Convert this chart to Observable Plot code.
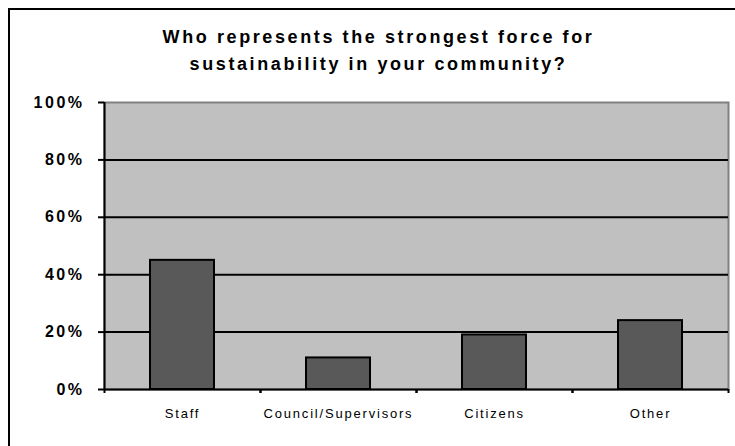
<!DOCTYPE html>
<html>
<head>
<meta charset="utf-8">
<script src="https://cdn.jsdelivr.net/npm/d3@7"></script>
<script src="https://cdn.jsdelivr.net/npm/@observablehq/plot@0.6"></script>
<style>
  html, body { margin: 0; padding: 0; background: #fff; }
  #wrap { position: relative; width: 735px; height: 446px; overflow: hidden; font-family: "Liberation Sans", Arial, sans-serif; }
  #border { position: absolute; left: 8px; top: 8px; width: 740px; height: 460px; border-left: 2px solid #000; border-top: 2px solid #000; box-sizing: border-box; }
  #title { position: absolute; left: 10px; width: 737px; top: 24px; text-align: center; font-weight: bold; font-size: 18px; line-height: 27px; letter-spacing: 2.6px; color: #000; white-space: nowrap; }
  #chart { position: absolute; left: 0; top: 0; }
  .plt g[aria-label="y-axis tick label"] text { letter-spacing: 2.5px; }
  .plt g[aria-label="x-axis tick label"] text { letter-spacing: 1.8px; }
</style>
</head>
<body>
<div id="wrap">
  <div id="border"></div>
  <div id="chart"></div>
  <div id="title">Who represents the strongest force for<br>sustainability in your community?</div>
</div>
<script>
const categories = ["Staff", "Council/Supervisors", "Citizens", "Other"];
const values = [45, 11, 19, 24];
const yTicks = [0, 20, 40, 60, 80, 100];
const gridLines = [20, 40, 60, 80];

const data = categories.map((c, i) => ({category: c, value: values[i]}));
const step = (735 - 7 - 104) / categories.length;

const chart = Plot.plot({
  width: 735,
  height: 446,
  marginLeft: 104,
  marginRight: 7,
  marginTop: 102,
  marginBottom: 57,
  className: "plt",
  style: {fontFamily: "'Liberation Sans', Arial, sans-serif", background: "transparent", overflow: "visible"},
  x: {domain: categories, paddingInner: 0.59, paddingOuter: 0.295, label: null},
  y: {domain: [0, 100], label: null},
  marks: [
    Plot.frame({fill: "#c0c0c0", stroke: "#808080", strokeWidth: 2}),
    Plot.ruleY(gridLines, {stroke: "#000", strokeWidth: 2}),
    Plot.barY(data, {x: "category", y: "value", fill: "#595959", stroke: "#000", strokeWidth: 2}),
    Plot.ruleY([0], {stroke: "#000", strokeWidth: 2}),
    Plot.ruleX([categories[0]], {dx: -step / 2, y1: 0, y2: 100, stroke: "#000", strokeWidth: 2}),
    Plot.axisY({ticks: yTicks, tickSize: 6, tickPadding: 14, strokeWidth: 2, stroke: "#000",
      tickFormat: d => d + "%", fontSize: 16, fontWeight: "bold", fill: "#000"}),
    Plot.axisX({tickSize: 4, tickFormat: null, dx: step / 2, strokeWidth: 2, stroke: "#000", label: null}),
    Plot.axisX({tickSize: 4, tickFormat: null, dx: -step / 2, strokeWidth: 2, stroke: "#000", label: null}),
    Plot.axisX({tickSize: 0, tickPadding: 19, fontSize: 13, fill: "#000", label: null})
  ]
});
document.getElementById("chart").appendChild(chart);
</script>
</body>
</html>
